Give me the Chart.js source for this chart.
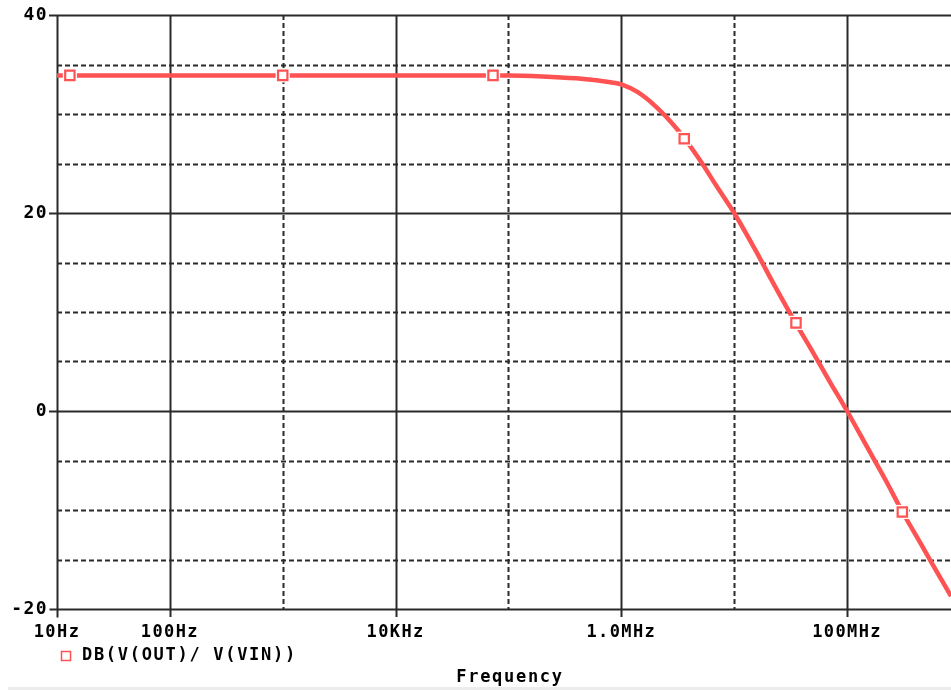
<!DOCTYPE html>
<html>
<head>
<meta charset="utf-8">
<script src="https://cdn.jsdelivr.net/npm/chart.js@4/dist/chart.umd.min.js"></script>
<style>
  html, body { margin: 0; padding: 0; background: #fff; }
  #wrap { width: 951px; height: 690px; position: relative; }
</style>
</head>
<body>
<div id="wrap"><canvas id="bode" width="951" height="690"></canvas></div>
<script>
// values
const freqHz = [10, 1e3, 1e4, 1e5, 2e5, 4e5, 6e5, 8e5, 1e6, 1.4e6, 2e6, 2.8e6, 3.6e6, 5e6, 7e6,
                1e7, 1.5e7, 2.2e7, 3.5e7, 5e7, 7e7, 1e8, 1.5e8, 2.2e8, 3.1e8, 4.5e8, 6e8, 8.34e8];
const gainDb = [33.9, 33.9, 33.9, 33.9, 33.8, 33.6, 33.4, 33.2, 33.0, 32.2, 30.8, 29.1, 27.6, 25.3, 22.7,
                20.0, 16.5, 13.0, 8.9, 5.9, 3.0, 0.0, -3.6, -7.0, -10.2, -13.4, -15.9, -18.7];

const markerHz = [13, 1000, 73000, 3.61e6, 3.53e7, 3.09e8];
const markerDb = [33.9, 33.9, 33.9, 27.5, 8.9, -10.2];

const xTickHz = [10, 100, 1e4, 1e6, 1e8];
const xTickText = ['10Hz', '100Hz', '10KHz', '1.0MHz', '100MHz'];
const xGridHz = [100, 1e3, 1e4, 1e5, 1e6, 1e7, 1e8];
const yTicks = [-20, 0, 20, 40];
const yGrid = [-15, -10, -5, 0, 5, 10, 15, 20, 25, 30, 35, 40];

const traceLabel = 'DB(V(OUT)/ V(VIN))';
const xTitle = 'Frequency';

const RED = '#ff5252';
const FAMILY = '"DejaVu Sans Mono", monospace';
const FONT = 'bold 17px ' + FAMILY;
const SPACING = '1.4px';

// grid, axes and tick marks drawn by hand so dashed/solid can differ per line
const gridPlugin = {
  id: 'pspiceGrid',
  beforeDraw(chart) {
    chart.ctx.letterSpacing = SPACING;
  },
  beforeDatasetsDraw(chart) {
    const { ctx, chartArea: a, scales: { x, y } } = chart;
    ctx.save();
    ctx.strokeStyle = '#2a2a2a';

    xGridHz.forEach(f => {
      const px = Math.round(x.getPixelForValue(f)) + 0.5;
      const major = Math.round(Math.log10(f)) % 2 === 0;
      ctx.lineWidth = 2;
      ctx.setLineDash(major ? [] : [5, 3]);
      ctx.beginPath();
      ctx.moveTo(px, a.top);
      ctx.lineTo(px, major ? a.bottom + 8 : a.bottom);
      ctx.stroke();
    });

    yGrid.forEach(v => {
      const py = Math.round(y.getPixelForValue(v)) + 0.5;
      const major = v % 20 === 0;
      ctx.lineWidth = 2;
      ctx.setLineDash(major ? [] : [5, 3]);
      ctx.beginPath();
      ctx.moveTo(major ? a.left - 8 : a.left, py);
      ctx.lineTo(a.right, py);
      ctx.stroke();
    });

    // axes
    ctx.setLineDash([]);
    ctx.lineWidth = 2;
    const x0 = Math.round(x.getPixelForValue(10)) + 0.5;
    const yb = Math.round(y.getPixelForValue(-20)) + 0.5;
    ctx.beginPath();
    ctx.moveTo(x0, a.top);
    ctx.lineTo(x0, yb + 8);
    ctx.moveTo(x0 - 8, yb);
    ctx.lineTo(a.right, yb);
    ctx.stroke();
    ctx.restore();
  },
  afterDraw(chart) {
    const { ctx } = chart;
    ctx.save();
    // legend
    ctx.strokeStyle = RED;
    ctx.lineWidth = 1.5;
    ctx.strokeRect(61.5, 651.5, 9, 9);
    ctx.fillStyle = '#000';
    ctx.font = FONT;
    ctx.letterSpacing = '1.7px';
    ctx.textBaseline = 'middle';
    ctx.textAlign = 'left';
    ctx.fillText(traceLabel, 82, 656);
    // axis title
    ctx.textAlign = 'center';
    ctx.fillText(xTitle, 510, 678);
    // bottom strip
    ctx.fillStyle = '#ececec';
    ctx.fillRect(8, 687, 943, 3);
    ctx.restore();
  }
};

const markerPoints = markerHz.map((f, i) => ({ x: f, y: markerDb[i] }));

new Chart(document.getElementById('bode'), {
  type: 'scatter',
  data: {
    datasets: [
      {
        label: traceLabel,
        data: freqHz.map((f, i) => ({ x: f, y: gainDb[i] })),
        showLine: true,
        borderColor: RED,
        borderWidth: 4.5,
        pointRadius: 0,
        cubicInterpolationMode: 'monotone',
        order: 3
      },
      {
        label: 'marker halo',
        data: markerPoints,
        showLine: false,
        pointStyle: 'rect',
        pointRadius: 10,
        pointBorderWidth: 0,
        pointBackgroundColor: '#fff',
        order: 2
      },
      {
        label: 'markers',
        data: markerPoints,
        showLine: false,
        pointStyle: 'rect',
        pointRadius: 6.6,
        pointBorderWidth: 2.2,
        pointBorderColor: RED,
        pointBackgroundColor: '#fff',
        order: 1
      }
    ]
  },
  options: {
    responsive: false,
    animation: false,
    layout: { autoPadding: false, padding: { top: 15, right: 0, left: 0, bottom: 0 } },
    plugins: { legend: { display: false }, tooltip: { enabled: false } },
    scales: {
      x: {
        type: 'logarithmic',
        min: 10,
        max: 8.34e8,
        bounds: 'data',
        grid: { display: false, drawTicks: false },
        border: { display: false },
        afterBuildTicks: s => { s.ticks = xTickHz.map(v => ({ value: v })); },
        afterFit: s => { s.height = 81; s.paddingLeft = 0; s.paddingRight = 0; },
        ticks: {
          autoSkip: false,
          maxRotation: 0,
          padding: 13,
          color: '#000',
          font: { family: FAMILY, size: 17, weight: 'bold' },
          callback: v => xTickText[xTickHz.indexOf(v)] || ''
        }
      },
      y: {
        min: -20,
        max: 40,
        grid: { display: false, drawTicks: false },
        border: { display: false },
        afterBuildTicks: s => { s.ticks = yTicks.map(v => ({ value: v })); },
        afterFit: s => { s.width = 57; s.paddingTop = 0; s.paddingBottom = 0; },
        ticks: {
          padding: 9,
          color: '#000',
          font: { family: FAMILY, size: 18, weight: 'bold' }
        }
      }
    }
  },
  plugins: [gridPlugin]
});
</script>
</body>
</html>
